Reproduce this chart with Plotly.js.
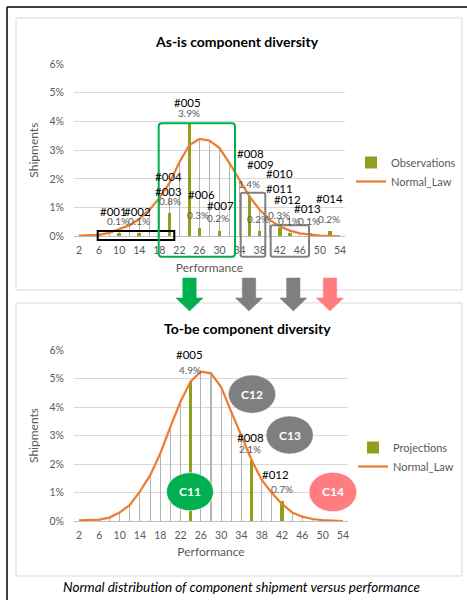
<!DOCTYPE html>
<html>
<head>
<meta charset="utf-8">
<script src="https://cdn.plot.ly/plotly-3.0.1.min.js"></script>
<style>html,body{margin:0;padding:0;background:#fff;}#chart{width:467px;height:600px;}</style>
</head>
<body>
<div id="chart"></div>
<script>
// ---------------- DATA ----------------
const perf = [2,4,6,8,10,12,14,16,18,20,22,24,26,28,30,32,34,36,38,40,42,44,46,48,50,52,54];
const tickPerf = [2,6,10,14,18,22,26,30,34,38,42,46,50,54];

// As-is: normal law per performance class
const normalAsIs = [0.0002,0.0003,0.0005,0.0012,0.0024,0.0038,0.0060,0.0092,0.0133,0.0185,0.0258,0.0318,0.0339,0.0333,0.0307,0.0254,0.0196,0.0138,0.0092,0.0057,0.0034,0.0020,0.0010,0.0005,0.0002,0.0001,0.0000];
// As-is observations
const obsCats = [10,14,20,24,26,30,36,38,42,44,48,52];
const obsVals = [0.001,0.001,0.008,0.039,0.003,0.002,0.014,0.002,0.003,0.001,0.001,0.002];
const obsIds = ['#001','#002','#003','#004','#005','#006','#007','#008','#009','#010','#011','#012','#013','#014'];

// To-be: normal law and projections
const normalToBe = [0.0002,0.0003,0.0005,0.0012,0.0030,0.0056,0.0104,0.0160,0.0237,0.0330,0.0419,0.0490,0.0524,0.0518,0.0470,0.0383,0.0296,0.0214,0.0144,0.0098,0.0060,0.0030,0.0015,0.0007,0.0003,0.0001,0.0000];
const projCats = [24,36,42];
const projVals = [0.049,0.021,0.007];
const projIds = ['#005','#008','#012'];

const clusters = ['C11','C12','C13','C14'];

// ---------------- HELPERS ----------------
const W = 467, H = 600;
const PX = x => x / W;
const PY = y => 1 - y / H;
const pct = v => (v * 100).toFixed(1) + '%';
const FONT = 'Lato, Carlito, "Open Sans", sans-serif';
const GREY_TXT = '#595959';
const OLIVE = '#939F1C';
const ORANGE = '#ED7D31';
const DROP = '#B4B4B4';

// ---------------- TRACES ----------------
const traces = [
  {type:'bar', x: perf, y: normalAsIs, width: 0.2, marker:{color:DROP}, xaxis:'x', yaxis:'y', showlegend:false, hoverinfo:'skip'},
  {type:'bar', name:'Observations', x: obsCats, y: obsVals, width: 0.7, marker:{color:OLIVE}, xaxis:'x', yaxis:'y', legend:'legend'},
  {type:'scatter', mode:'lines', name:'Normal_Law', x: perf, y: normalAsIs, line:{color:ORANGE, width:2.25}, xaxis:'x', yaxis:'y', legend:'legend'},
  {type:'bar', x: perf, y: normalToBe, width: 0.2, marker:{color:DROP}, xaxis:'x2', yaxis:'y2', showlegend:false, hoverinfo:'skip'},
  {type:'bar', name:'Projections', x: projCats, y: projVals, width: 0.7, marker:{color:OLIVE}, xaxis:'x2', yaxis:'y2', legend:'legend2'},
  {type:'scatter', mode:'lines', name:'Normal_Law', x: perf, y: normalToBe, line:{color:ORANGE, width:2.25}, xaxis:'x2', yaxis:'y2', legend:'legend2'}
];

// ---------------- AXES ----------------
function xAxis(domain){
  return {domain: domain, range:[1,55], tickmode:'array', tickvals: tickPerf, ticktext: tickPerf.map(String),
    showgrid:false, zeroline:false, showline:false, ticks:'', ticklabelstandoff: 6,
    tickfont:{family:FONT, size:10.5, color:GREY_TXT},
    title:{text:'Performance', font:{family:FONT, size:12, color:GREY_TXT}, standoff: 8}, fixedrange:true};
}
function yAxis(domain){
  return {domain: domain, range:[0,0.06], dtick:0.01, tickformat:'.0%', showgrid:true, gridcolor:'#D9D9D9', gridwidth:1,
    zeroline:true, zerolinecolor:'#BFBFBF', zerolinewidth:1, showline:false, ticks:'', ticklabelstandoff: 9,
    tickfont:{family:FONT, size:10.5, color:GREY_TXT},
    title:{text:'Shipments', font:{family:FONT, size:12, color:GREY_TXT}, standoff: 8}, fixedrange:true};
}

// ---------------- ANNOTATIONS ----------------
const ann = [];
function txt(t, x, y, size, color, opts){
  ann.push(Object.assign({text:t, xref:'paper', yref:'paper', x:PX(x), y:PY(y), xanchor:'center', yanchor:'middle',
    showarrow:false, font:{family:FONT, size:size, color:color}}, opts||{}));
}
// titles
txt('<b>As-is component diversity</b>', 237, 41, 14, '#000');
txt('<b>To-be component diversity</b>', 247, 328, 14, '#000');
// caption
ann.push({text:'Normal distribution of component shipment versus performance', xref:'paper', yref:'paper',
  x:PX(241), y:PY(587), xanchor:'center', yanchor:'middle', showarrow:false,
  font:{family:FONT, size:13.5, color:'#000', style:'italic'}});

// As-is labels (positions as manually placed on the original)
const idPosTop = [[113,211],[137,212],[168,191],[168,176],[187,102],[201,195],[220,206],[250,153],[260,164],[279,173],[279,189],[287,199],[307,208],[329,198]];
const pctPosTop = [[118,221],[139,221],[170,201],[189,113],[198,215],[218,218],[249,184],[258,219],[279,215],[289,221],[309,221],[329,219]];
obsIds.forEach((id,i)=> txt(id, idPosTop[i][0], idPosTop[i][1], 11.5, '#000'));
obsVals.forEach((v,i)=> txt(pct(v), pctPosTop[i][0], pctPosTop[i][1], 10, GREY_TXT));

// To-be labels
const idPosBot = [[189,354],[250,437],[275,474]];
const pctPosBot = [[190,370],[250,449],[282,489]];
projIds.forEach((id,i)=> txt(id, idPosBot[i][0], idPosBot[i][1], 11.5, '#000'));
projVals.forEach((v,i)=> txt(pct(v), pctPosBot[i][0], pctPosBot[i][1], 10, GREY_TXT));

// cluster ellipses
const ellBoxes = [[166.5,472.7,213.5,510.7],[228.3,375,275.7,413.3],[266,416,313.3,454],[309,472.3,356.7,511.7]];
const ellColors = ['#00B050','#7F7F7F','#7F7F7F','#FF7C80'];
clusters.forEach((c,i)=>{
  const b = ellBoxes[i];
  txt('<b>'+c+'</b>', (b[0]+b[2])/2, (b[1]+b[3])/2, 12, '#fff');
});

// ---------------- SHAPES ----------------
const shapes = [];
// outer frame
shapes.push({type:'line', xref:'paper', yref:'paper', x0:PX(7), y0:PY(7), x1:PX(467), y1:PY(7), line:{color:'#000', width:1.5}});
shapes.push({type:'line', xref:'paper', yref:'paper', x0:PX(7), y0:PY(7), x1:PX(7), y1:PY(600), line:{color:'#000', width:1.5}});
// chart frames
shapes.push({type:'rect', xref:'paper', yref:'paper', x0:PX(16), y0:PY(18), x1:PX(462), y1:PY(290), line:{color:'#D9D9D9', width:1}, layer:'below'});
shapes.push({type:'rect', xref:'paper', yref:'paper', x0:PX(16), y0:PY(303), x1:PX(462), y1:PY(576), line:{color:'#D9D9D9', width:1}, layer:'below'});

function rrect(x0,y0,x1,y1,r){
  const p = (x,y)=> PX(x)+','+PY(y);
  return 'M'+p(x0+r,y0)+' L'+p(x1-r,y0)+' Q'+p(x1,y0)+' '+p(x1,y0+r)+' L'+p(x1,y1-r)+' Q'+p(x1,y1)+' '+p(x1-r,y1)+
    ' L'+p(x0+r,y1)+' Q'+p(x0,y1)+' '+p(x0,y1-r)+' L'+p(x0,y0+r)+' Q'+p(x0,y0)+' '+p(x0+r,y0)+' Z';
}
// grouping boxes
shapes.push({type:'rect', xref:'paper', yref:'paper', x0:PX(97.7), y0:PY(231), x1:PX(174.3), y1:PY(240), line:{color:'#000', width:2}});
shapes.push({type:'path', xref:'paper', yref:'paper', path: rrect(158.7,123.3,235,256.7,3), line:{color:'#00B050', width:2}});
shapes.push({type:'path', xref:'paper', yref:'paper', path: rrect(240.7,192.7,265.3,256.7,2), line:{color:'#7F7F7F', width:2}});
shapes.push({type:'path', xref:'paper', yref:'paper', path: rrect(270.7,225.3,309,256.7,2), line:{color:'#7F7F7F', width:2}});

// arrows
function arrow(cx, color){
  const p = (x,y)=> PX(x)+','+PY(y);
  const sw = 6.7, hw = 13.5, top = 278, neck = 298, tip = 311;
  return {type:'path', xref:'paper', yref:'paper', fillcolor:color, line:{color:color, width:0.5},
    path:'M'+p(cx-sw,top)+' L'+p(cx+sw,top)+' L'+p(cx+sw,neck)+' L'+p(cx+hw,neck)+' L'+p(cx,tip)+' L'+p(cx-hw,neck)+' L'+p(cx-sw,neck)+' Z'};
}
shapes.push(arrow(189.5,'#00B050'));
shapes.push(arrow(249,'#7F7F7F'));
shapes.push(arrow(293.3,'#7F7F7F'));
shapes.push(arrow(330,'#FF7C80'));

// ellipses
ellBoxes.forEach((b,i)=> shapes.push({type:'circle', xref:'paper', yref:'paper', x0:PX(b[0]), y0:PY(b[1]), x1:PX(b[2]), y1:PY(b[3]),
  fillcolor:ellColors[i], line:{color:'rgba(255,255,255,0.6)', width:1}}));

// ---------------- LAYOUT ----------------
const legendFont = {family:FONT, size:11, color:GREY_TXT};
const layout = {
  width: W, height: H, margin:{l:0,r:0,t:0,b:0}, paper_bgcolor:'#fff', plot_bgcolor:'rgba(0,0,0,0)',
  barmode:'overlay', bargap:0,
  xaxis: xAxis([74/W, 345/W]),
  yaxis: yAxis([1-236.3/H, 1-64/H]),
  xaxis2: Object.assign(xAxis([74/W, 348/W]), {anchor:'y2'}),
  yaxis2: Object.assign(yAxis([1-521/H, 1-350/H]), {anchor:'x2'}),
  legend: {x:PX(351), y:PY(148), xanchor:'left', yanchor:'top', font:legendFont, itemwidth:30, bgcolor:'rgba(0,0,0,0)', tracegroupgap:0},
  legend2: {x:PX(353), y:PY(433), xanchor:'left', yanchor:'top', font:legendFont, itemwidth:30, bgcolor:'rgba(0,0,0,0)', tracegroupgap:0},
  annotations: ann,
  shapes: shapes,
  showlegend: true
};
layout.yaxis.anchor = 'x';
layout.xaxis.anchor = 'y';

Plotly.newPlot('chart', traces, layout, {displayModeBar:false, staticPlot:true});
</script>
</body>
</html>
